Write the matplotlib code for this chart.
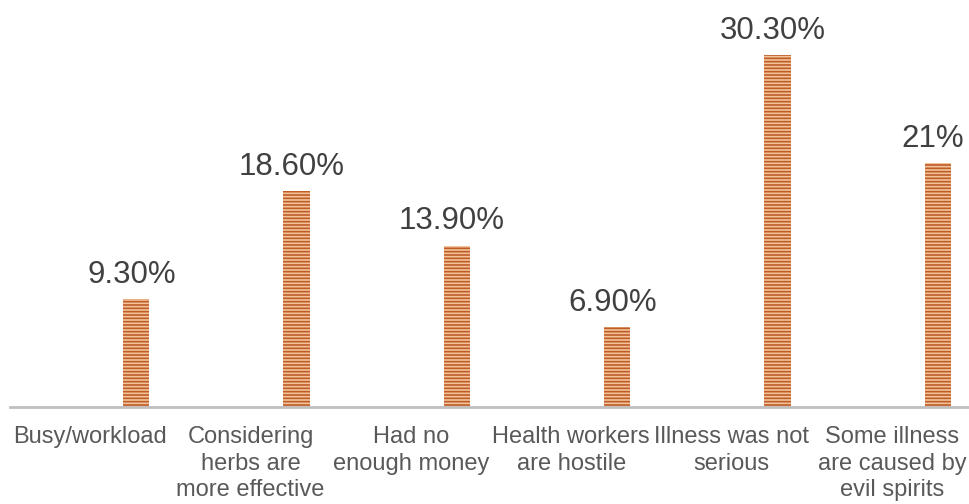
import numpy as np
import matplotlib.pyplot as plt

plt.rcParams['font.family'] = ['Liberation Sans', 'DejaVu Sans']
plt.rcParams['hatch.linewidth'] = 1.2

categories = ['Busy/workload', 'Considering\nherbs are\nmore effective', 'Had no\nenough money',
              'Health workers\nare hostile', 'Illness was not\nserious', 'Some illness\nare caused by\nevil spirits']
values = [9.3, 18.6, 13.9, 6.9, 30.3, 21.0]
value_labels = ['9.30%', '18.60%', '13.90%', '6.90%', '30.30%', '21%']

fig = plt.figure(figsize=(9.69, 5.04), dpi=100)
ax = fig.add_axes([10 / 969, (504 - 407) / 504, 962 / 969, 352 / 504 / 30.3 * 33])

x = np.arange(len(categories))
offset = 0.287
bars = ax.bar(x + offset, values, width=0.165, color='#f5c29a', edgecolor='#bd5e28',
              hatch='-----', linewidth=0)

for xi, v, lab in zip(x, values, value_labels):
    ax.text(xi + offset - 0.03, v + 0.8, lab, ha='center', va='bottom', fontsize=22.5, color='#404040')

ax.set_xlim(-0.5, 5.5)
ax.set_ylim(0, 33)
ax.set_xticks(x)
ax.set_xticklabels(categories, fontsize=17, color='#595959', linespacing=1.25)
ax.tick_params(axis='x', length=0, pad=14)
ax.set_yticks([])
for s in ['top', 'right', 'left']:
    ax.spines[s].set_visible(False)
ax.spines['bottom'].set_color('#bfbfbf')
ax.spines['bottom'].set_linewidth(2)

fig.savefig('out.png', dpi=100)
